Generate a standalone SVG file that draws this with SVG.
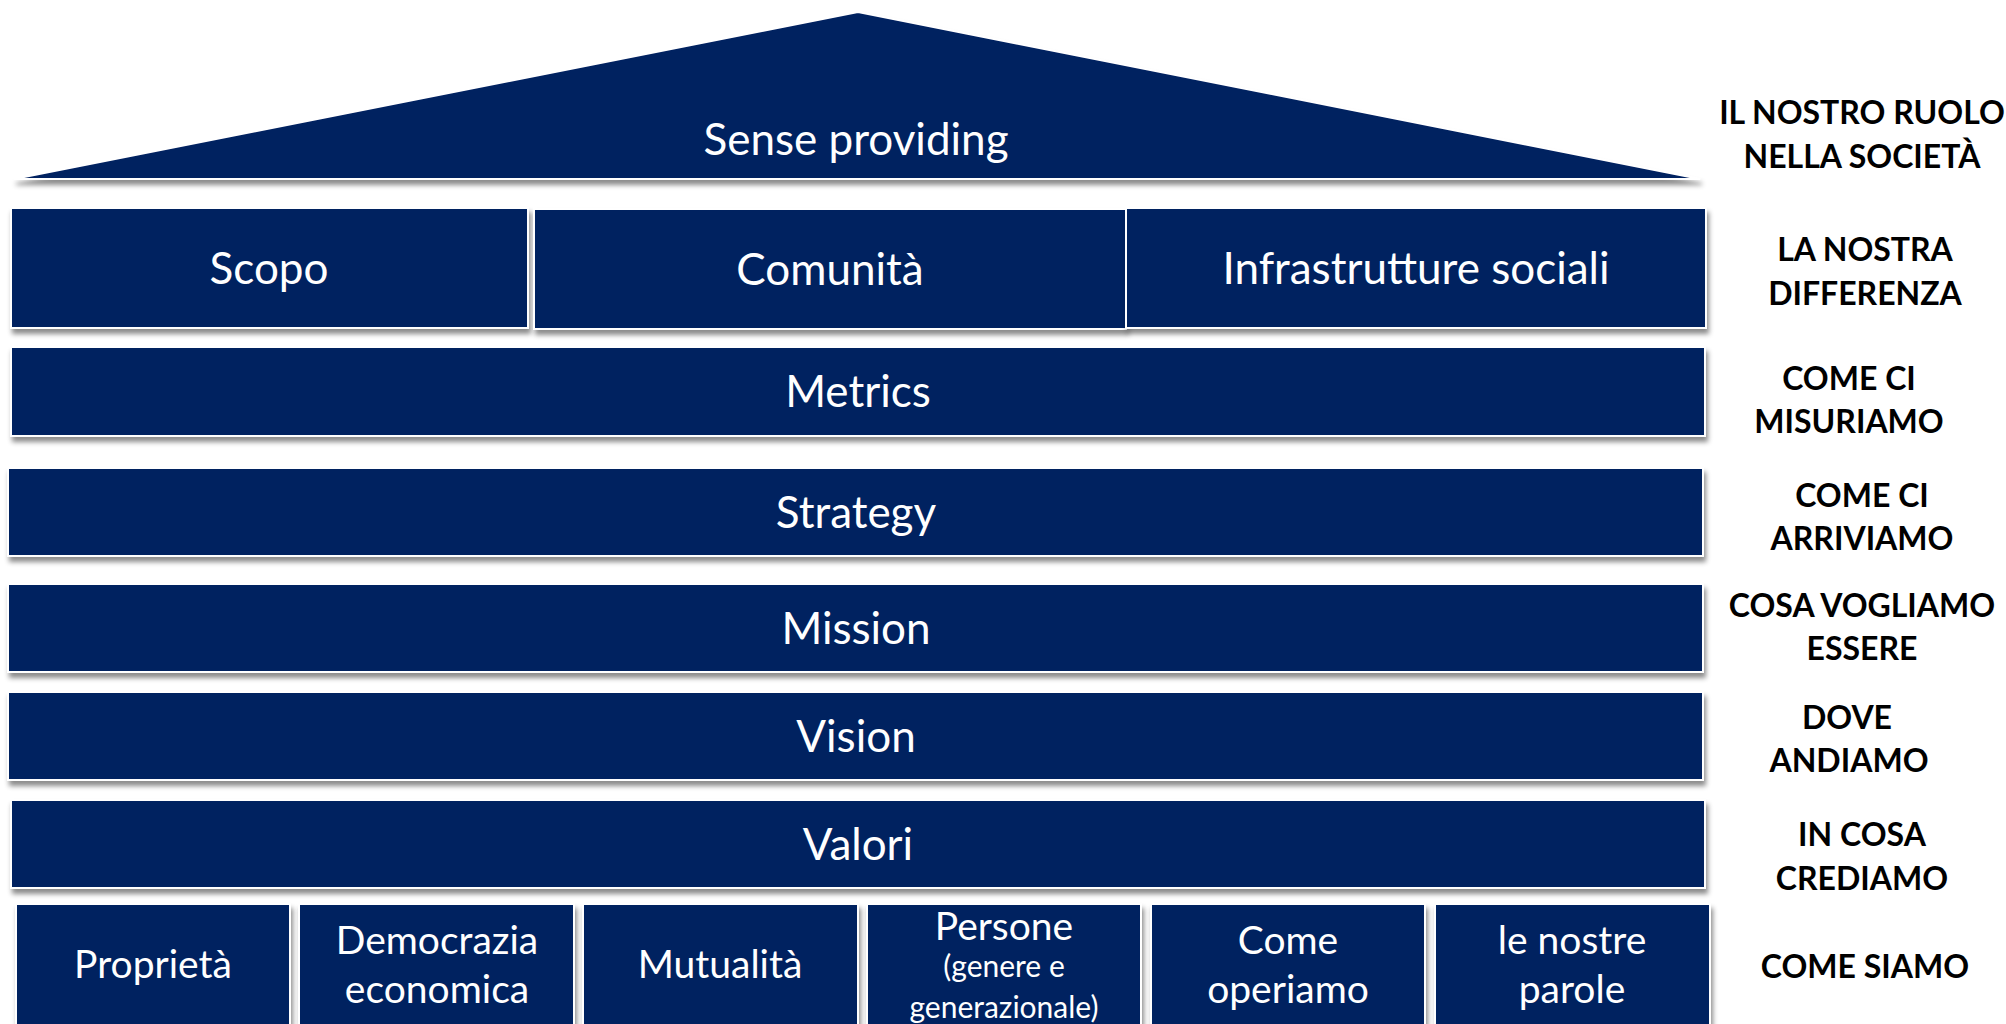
<svg xmlns="http://www.w3.org/2000/svg" width="2006" height="1024" viewBox="0 0 2006 1024">
<defs>
<filter id="sh" x="-5%" y="-20%" width="110%" height="150%">
<feDropShadow dx="2" dy="5" stdDeviation="2.5" flood-color="#000" flood-opacity="0.45"/>
</filter>
<style>
.box{fill:#002060;stroke:#ffffff;stroke-width:2;filter:url(#sh)}
.t{font-family:Lato,"Open Sans",sans-serif;fill:#ffffff;text-anchor:middle;font-size:44px}
.s{font-family:Lato,"Open Sans",sans-serif;fill:#ffffff;text-anchor:middle;font-size:39px}
.ss{font-family:Lato,"Open Sans",sans-serif;fill:#ffffff;text-anchor:middle;font-size:30px}
.r{font-family:Lato,"Open Sans",sans-serif;fill:#000000;text-anchor:middle;font-size:32px;font-weight:bold}
</style>
</defs>
<rect width="2006" height="1024" fill="#ffffff"/>
<g id="roof">
<polygon class="box" points="14,179 858,12 1700,179"/>
<text class="t" x="856" y="155">Sense providing</text>
</g>
<g id="scopo"><rect class="box" x="11" y="208" width="517" height="120"/><text class="t" x="269" y="284">Scopo</text></g>
<g id="comunita"><rect class="box" x="534" y="209" width="592" height="120"/><text class="t" x="830" y="285">Comunità</text></g>
<g id="infrastrutture"><rect class="box" x="1126" y="208" width="580" height="120"/><text class="t" x="1416" y="284">Infrastrutture sociali</text></g>
<g id="metrics"><rect class="box" x="11" y="347" width="1694" height="89"/><text class="t" x="858" y="407">Metrics</text></g>
<g id="strategy"><rect class="box" x="8" y="468" width="1695" height="88"/><text class="t" x="856" y="528">Strategy</text></g>
<g id="mission"><rect class="box" x="8" y="584" width="1695" height="88"/><text class="t" x="856" y="644">Mission</text></g>
<g id="vision"><rect class="box" x="8" y="692" width="1695" height="88"/><text class="t" x="856" y="752">Vision</text></g>
<g id="valori"><rect class="box" x="11" y="800" width="1694" height="88"/><text class="t" x="858" y="860">Valori</text></g>
<g id="proprieta"><rect class="box" x="16" y="904" width="274" height="130"/><text class="s" x="153" y="978">Proprietà</text></g>
<g id="democrazia"><rect class="box" x="299" y="904" width="275" height="130"/><text class="s" x="437" y="954">Democrazia</text><text class="s" x="437" y="1003">economica</text></g>
<g id="mutualita"><rect class="box" x="583" y="904" width="275" height="130"/><text class="s" x="720" y="978">Mutualità</text></g>
<g id="persone"><rect class="box" x="867" y="904" width="274" height="130"/><text class="s" x="1004" y="940">Persone</text><text class="ss" x="1004" y="977">(genere e</text><text class="ss" x="1004" y="1018">generazionale)</text></g>
<g id="come-operiamo"><rect class="box" x="1151" y="904" width="274" height="130"/><text class="s" x="1288" y="954">Come</text><text class="s" x="1288" y="1003">operiamo</text></g>
<g id="parole"><rect class="box" x="1435" y="904" width="275" height="130"/><text class="s" x="1572" y="954">le nostre</text><text class="s" x="1572" y="1003">parole</text></g>
<g id="labels">
<text class="r" x="1862" y="124">IL NOSTRO RUOLO</text>
<text class="r" x="1862" y="168">NELLA SOCIETÀ</text>
<text class="r" x="1865" y="261">LA NOSTRA</text>
<text class="r" x="1865" y="305">DIFFERENZA</text>
<text class="r" x="1849" y="390">COME CI</text>
<text class="r" x="1849" y="433">MISURIAMO</text>
<text class="r" x="1862" y="507">COME CI</text>
<text class="r" x="1862" y="550">ARRIVIAMO</text>
<text class="r" x="1862" y="617">COSA VOGLIAMO</text>
<text class="r" x="1862" y="660">ESSERE</text>
<text class="r" x="1847" y="729">DOVE</text>
<text class="r" x="1849" y="772">ANDIAMO</text>
<text class="r" x="1862" y="846">IN COSA</text>
<text class="r" x="1862" y="890">CREDIAMO</text>
<text class="r" x="1865" y="978">COME SIAMO</text>
</g>
<g id="connectors"/>
</svg>
